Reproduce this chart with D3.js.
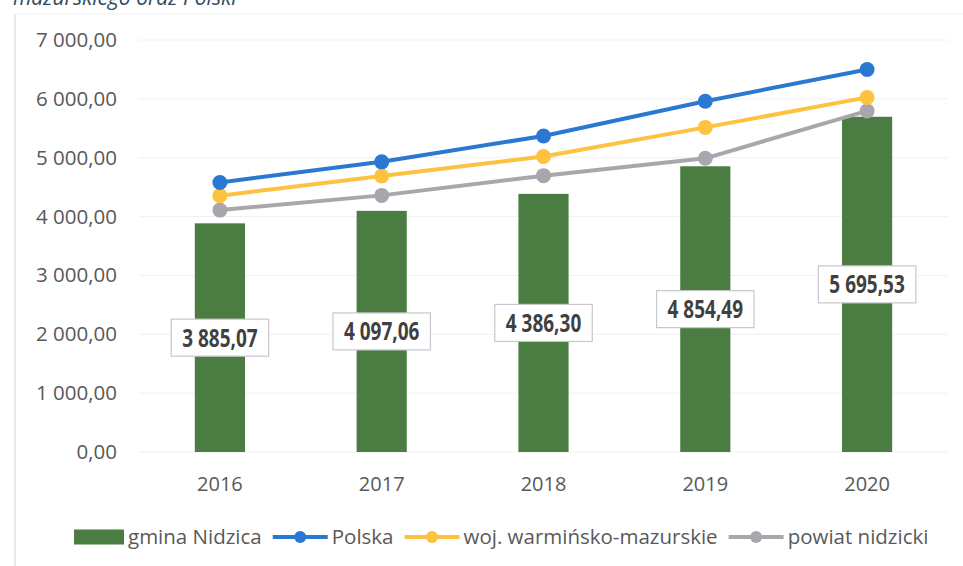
<!DOCTYPE html>
<html>
<head>
<meta charset="utf-8">
<script src="https://cdn.jsdelivr.net/npm/d3@7"></script>
<style>
  html, body { margin: 0; padding: 0; background: #fff; }
  svg { display: block; }
</style>
</head>
<body>
<svg id="chart" width="963" height="566"></svg>
<script>
// Dochody na 1 mieszkańca, lata 2016–2020
const years = ["2016", "2017", "2018", "2019", "2020"];
const gminaNidzica = [3885.07, 4097.06, 4386.30, 4854.49, 5695.53];
const polska = [4580, 4930, 5370, 5960, 6500];
const wojewodztwo = [4355, 4690, 5020, 5515, 6025];
const powiat = [4110, 4360, 4695, 4990, 5795];
const yTicks = [0, 1000, 2000, 3000, 4000, 5000, 6000, 7000];
const seriesNames = ["gmina Nidzica", "Polska", "woj. warmińsko-mazurskie", "powiat nidzicki"];

const colors = {
  bar: "#4b7d42",
  polska: "#2a78d2",
  woj: "#fcc240",
  powiat: "#a9a7ad",
  text: "#595959",
  label: "#404040"
};

const fmt = v => {
  const s = d3.format(",.2f")(v);
  return s.replace(/,/g, " ").replace(".", ",");
};

const svg = d3.select("#chart");

// caption fragment above the chart frame
svg.append("text")
  .attr("x", 13).attr("y", 5)
  .attr("font-family", "'Open Sans', sans-serif")
  .attr("font-style", "italic")
  .attr("font-size", 21)
  .attr("fill", "#2f4a66")
  .text("mazurskiego oraz Polski");

// chart frame (left and top edges)
svg.append("line")
  .attr("x1", 15).attr("x2", 15).attr("y1", 14).attr("y2", 566)
  .attr("stroke", "#e2e2e4").attr("stroke-width", 1.5);
svg.append("line")
  .attr("x1", 15).attr("x2", 963).attr("y1", 14).attr("y2", 14)
  .attr("stroke", "#f1f1f3").attr("stroke-width", 1);

const x = d3.scaleBand().domain(years).range([139, 948])
  .paddingInner(0.69).paddingOuter(0.345);
const y = d3.scaleLinear().domain([0, 7000]).range([452, 40]);
const cx = d => x(d) + x.bandwidth() / 2;

// gridlines
svg.append("g")
  .selectAll("line").data(yTicks).join("line")
  .attr("x1", 139).attr("x2", 948)
  .attr("y1", d => y(d)).attr("y2", d => y(d))
  .attr("stroke", "#f0f0f2").attr("stroke-width", 1);

// y axis labels
const yAxis = d3.axisLeft(y).tickValues(yTicks).tickSize(0).tickPadding(0).tickFormat(fmt);
const gy = svg.append("g").attr("transform", "translate(117,0)").call(yAxis);
gy.select(".domain").remove();
gy.selectAll("text")
  .attr("font-family", "'Open Sans', sans-serif")
  .attr("font-size", 20.5)
  .attr("fill", colors.text);

// x axis labels
const xAxis = d3.axisBottom(x).tickSize(0).tickPadding(0);
const gx = svg.append("g").attr("transform", "translate(0,477)").call(xAxis);
gx.select(".domain").remove();
gx.selectAll("text")
  .attr("font-family", "'Open Sans', sans-serif")
  .attr("font-size", 20)
  .attr("fill", colors.text);

// bars
svg.append("g")
  .selectAll("rect").data(years).join("rect")
  .attr("x", d => x(d))
  .attr("width", x.bandwidth())
  .attr("y", (d, i) => y(gminaNidzica[i]))
  .attr("height", (d, i) => y(0) - y(gminaNidzica[i]))
  .attr("fill", colors.bar);

// lines with markers
const lineSeries = [
  { values: polska, color: colors.polska },
  { values: wojewodztwo, color: colors.woj },
  { values: powiat, color: colors.powiat }
];
const line = d3.line().x((d, i) => cx(years[i])).y(d => y(d));

// draw bottom-most series first so upper lines sit on top where they touch
[...lineSeries].reverse().forEach(s => {
  const g = svg.append("g");
  g.append("path")
    .datum(s.values)
    .attr("d", line)
    .attr("fill", "none")
    .attr("stroke", s.color)
    .attr("stroke-width", 4)
    .attr("stroke-linejoin", "round");
  g.selectAll("circle").data(s.values).join("circle")
    .attr("cx", (d, i) => cx(years[i]))
    .attr("cy", d => y(d))
    .attr("r", 7.5)
    .attr("fill", s.color);
});

// value labels centred on the bars (condensed bold digits)
const labelScaleX = 0.76;
const labels = svg.append("g")
  .selectAll("g").data(years).join("g")
  .attr("transform", (d, i) => `translate(${cx(d)},${y(gminaNidzica[i] / 2)})`);
labels.append("text")
  .attr("text-anchor", "middle")
  .attr("dy", "0.36em")
  .attr("transform", `scale(${labelScaleX},1)`)
  .attr("font-family", "'Open Sans', sans-serif")
  .attr("font-weight", "bold")
  .attr("font-size", 25)
  .attr("fill", colors.label)
  .text((d, i) => fmt(gminaNidzica[i]));
labels.each(function () {
  const g = d3.select(this);
  const w = g.select("text").node().getComputedTextLength() * labelScaleX;
  g.insert("rect", "text")
    .attr("x", -w / 2 - 11)
    .attr("y", -18.5)
    .attr("width", w + 22)
    .attr("height", 37)
    .attr("fill", "#fff")
    .attr("stroke", "#c8c8cc")
    .attr("stroke-width", 1.2);
});

// legend
const legend = svg.append("g").attr("transform", "translate(0,537)");
const legendItems = [
  { name: seriesNames[0], type: "bar", color: colors.bar },
  { name: seriesNames[1], type: "line", color: colors.polska },
  { name: seriesNames[2], type: "line", color: colors.woj },
  { name: seriesNames[3], type: "line", color: colors.powiat }
];
let lx = 74;
legendItems.forEach(item => {
  const g = legend.append("g").attr("transform", `translate(${lx},0)`);
  let sw;
  if (item.type === "bar") {
    sw = 50;
    g.append("rect").attr("x", 0).attr("y", -7.5).attr("width", sw).attr("height", 15)
      .attr("fill", item.color);
  } else {
    sw = 55;
    g.append("line").attr("x1", 0).attr("x2", sw).attr("y1", 0).attr("y2", 0)
      .attr("stroke", item.color).attr("stroke-width", 4);
    g.append("circle").attr("cx", sw / 2).attr("cy", 0).attr("r", 6).attr("fill", item.color);
  }
  const t = g.append("text")
    .attr("x", sw + 4).attr("dy", "0.35em")
    .attr("font-family", "'Open Sans', sans-serif")
    .attr("font-size", 20.5)
    .attr("fill", colors.text)
    .text(item.name);
  lx += sw + 4 + t.node().getComputedTextLength() + 11;
});
</script>
</body>
</html>
